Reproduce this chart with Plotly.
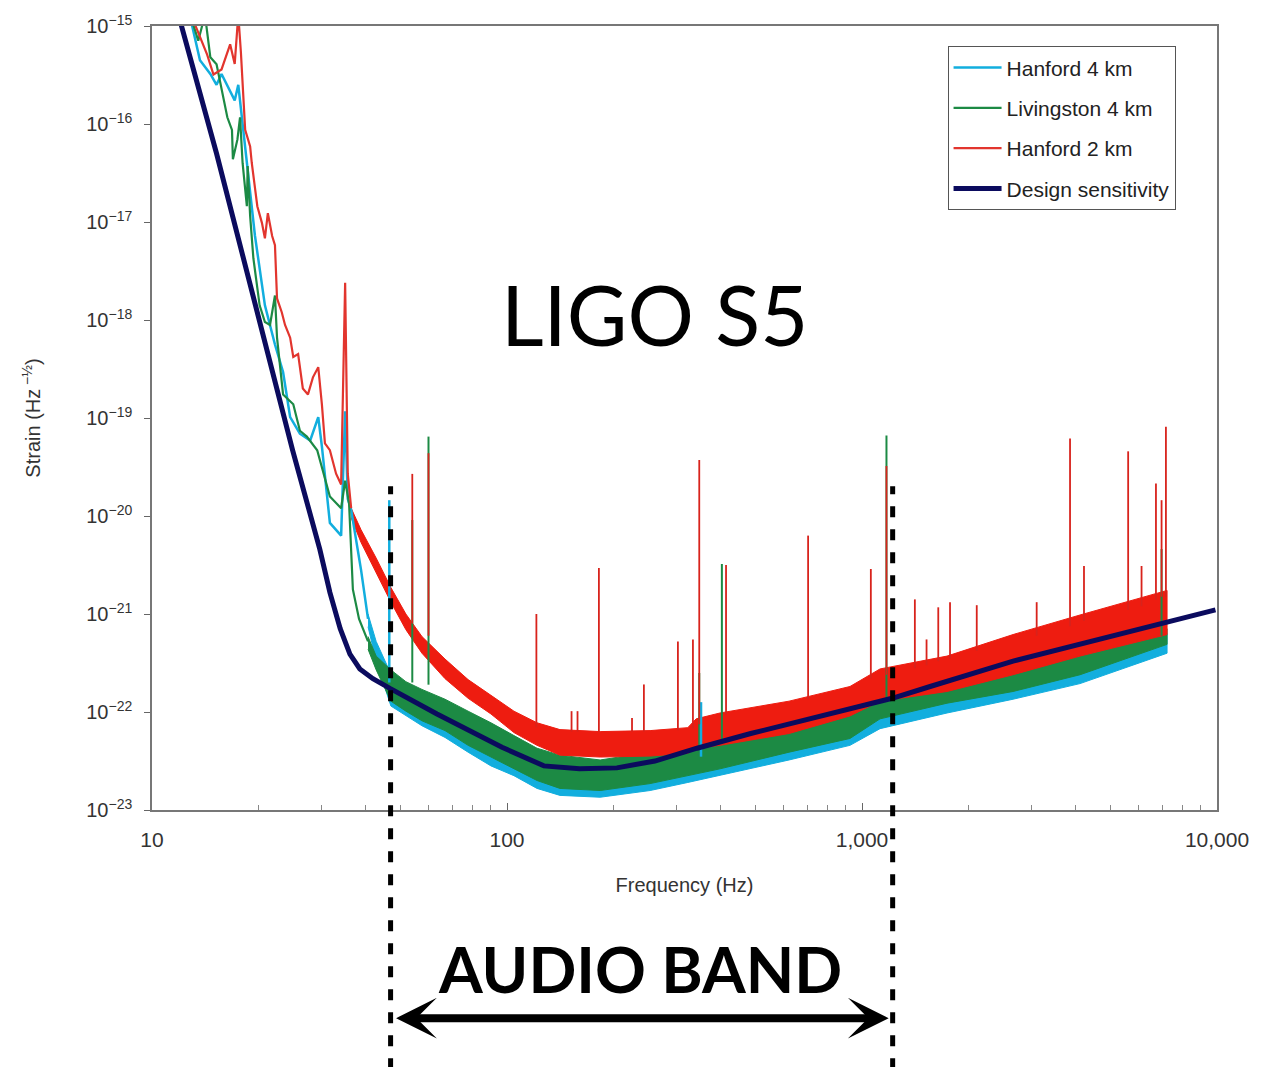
import numpy as np
import plotly.graph_objects as go

# ---------------- data ----------------
# Design sensitivity
design_freq = [11.5, 12.15, 15.2, 24.9, 29.7, 31.7, 33.9, 36.1, 38.5, 41.9, 46.8, 54.3, 63.5, 96.8,
               127, 160, 204, 261, 343, 486, 796, 1216, 1556, 2664, 9900]
design_strain = [2.04e-15, 9.55e-16, 5.0e-17, 4.68e-20, 4.57e-21, 1.66e-21, 7.08e-22, 3.89e-22,
                 2.75e-22, 2.19e-22, 1.74e-22, 1.29e-22, 9.55e-23, 4.37e-23, 2.82e-23, 2.63e-23,
                 2.69e-23, 3.16e-23, 4.27e-23, 6.03e-23, 9.55e-23, 1.38e-22, 1.82e-22, 3.31e-22,
                 1.10e-21]

# Hanford 4 km (H1) low-frequency trace
h1_line_freq = [12.9, 13.65, 14.6, 15.2, 15.7, 16.6, 17.1, 17.5, 18.3, 19.5, 20.8, 22.2, 23.4, 24.5,
                26.1, 27.9, 29.4, 30.1, 31.7, 34.1, 35.0, 35.6, 36.4, 38.8, 40.6]
h1_line_strain = [1.1e-15, 4.47e-16, 3.24e-16, 2.51e-16, 3.24e-16, 2.19e-16, 1.74e-16, 2.51e-16,
                  5.89e-17, 7.24e-18, 1.41e-18, 5.62e-19, 2.95e-19, 1.02e-19, 6.92e-20, 5.89e-20,
                  1.02e-19, 5.13e-20, 8.51e-21, 6.3e-21, 1.17e-19, 1.5e-20, 1.15e-20, 2.82e-21,
                  8.91e-22]
# Hanford 4 km noise band
h1_band_freq = [40.6, 42.8, 47.1, 51.9, 57.6, 66.9, 77.7, 90.1, 104.6, 121.5, 141, 183, 253, 323,
                398, 623, 925, 1124, 1736, 2664, 4113, 7233]
h1_band_upper = [1.0e-21, 5.25e-22, 2.45e-22, 1.82e-22, 1.51e-22, 1.20e-22, 8.91e-23, 6.76e-23,
                 4.90e-23, 3.63e-23, 3.02e-23, 2.75e-23, 3.39e-23, 4.07e-23, 4.57e-23, 6.46e-23,
                 9.12e-23, 1.20e-22, 1.82e-22, 2.45e-22, 3.72e-22, 6.31e-22]
h1_band_lower = [7.41e-22, 3.31e-22, 1.15e-22, 9.12e-23, 7.24e-23, 5.50e-23, 3.89e-23, 2.82e-23,
                 2.24e-23, 1.66e-23, 1.41e-23, 1.35e-23, 1.58e-23, 1.91e-23, 2.24e-23, 3.24e-23,
                 4.57e-23, 6.76e-23, 9.77e-23, 1.35e-22, 1.95e-22, 3.98e-22]
h1_spike_freq = [46.6, 352]
h1_spike_top = [1.45e-20, 1.26e-22]
h1_spike_base = [2.0e-22, 3.5e-23]

# Livingston 4 km (L1)
l1_line_freq = [12.9, 13.5, 14.1, 14.6, 15.2, 16.3, 16.8, 16.9, 17.4, 17.7, 18.0, 18.5, 18.6, 18.9,
                19.3, 20.1, 20.8, 21.5, 22.2, 22.5, 23.4, 25.0, 26.1, 27.3, 29.2, 31.7, 34.1, 35.0,
                35.9, 36.8, 38.3, 40.6]
l1_line_strain = [1.2e-15, 7.08e-16, 1.3e-15, 4.79e-16, 4.07e-16, 1.17e-16, 8.71e-17, 4.37e-17,
                  6.92e-17, 1.17e-16, 3.98e-17, 1.45e-17, 3.72e-17, 1.15e-17, 4.27e-18, 1.41e-18,
                  9.55e-19, 8.91e-19, 1.78e-18, 6.61e-19, 1.74e-19, 1.38e-19, 7.41e-20, 6.46e-20,
                  4.68e-20, 1.58e-20, 1.2e-20, 2.29e-20, 1.35e-20, 1.78e-21, 8.91e-22, 5.25e-22]
l1_band_freq = [40.6, 42.8, 47.1, 51.9, 57.6, 66.9, 77.7, 90.1, 104.6, 121.5, 141, 183, 253, 323,
                398, 623, 925, 1124, 1736, 2664, 4113, 7233]
l1_band_upper = [5.89e-22, 3.72e-22, 2.69e-22, 2.04e-22, 1.70e-22, 1.35e-22, 1.02e-22, 7.76e-23,
                 5.75e-23, 4.27e-23, 3.63e-23, 3.24e-23, 3.89e-23, 4.79e-23, 5.50e-23, 7.76e-23,
                 1.07e-22, 1.51e-22, 2.29e-22, 3.02e-22, 4.47e-22, 7.08e-22]
l1_band_lower = [4.37e-22, 2.69e-22, 1.29e-22, 1.02e-22, 8.13e-23, 6.46e-23, 4.57e-23, 3.47e-23,
                 2.63e-23, 2.00e-23, 1.66e-23, 1.58e-23, 1.86e-23, 2.24e-23, 2.63e-23, 3.89e-23,
                 5.37e-23, 8.51e-23, 1.23e-22, 1.62e-22, 2.40e-22, 4.90e-22]
l1_spike_freq = [54.1, 60.1, 348, 403, 1172, 6980]
l1_spike_top = [9.1e-21, 6.46e-20, 2.5e-22, 3.24e-21, 6.61e-20, 4.6e-21]
l1_spike_base = [2.0e-22, 1.9e-22, 3.9e-23, 4.8e-23, 1.2e-22, 6.0e-22]

# Hanford 2 km (H2)
h2_line_freq = [13.0, 13.5, 14.3, 14.9, 15.7, 16.6, 17.1, 17.5, 17.8, 18.3, 18.9, 19.1, 19.8, 20.4,
                20.8, 21.2, 21.8, 22.2, 22.5, 23.2, 23.7, 24.5, 25.0, 25.8, 26.6, 27.5, 28.4, 29.4,
                30.1, 30.7, 31.7, 33.0, 34.1, 35.0, 35.6, 36.4]
h2_line_strain = [1.2e-15, 8.5e-16, 5.1e-16, 3.2e-16, 3.6e-16, 6.5e-16, 4.1e-16, 1.3e-15, 5.4e-16,
                  8.7e-17, 5.9e-17, 4.0e-17, 1.45e-17, 9.8e-18, 6.8e-18, 1.23e-17, 7.2e-18, 5.8e-18,
                  1.66e-18, 1.2e-18, 8.9e-19, 6.6e-19, 4.2e-19, 4.5e-19, 2.0e-19, 1.74e-19, 2.6e-19,
                  3.3e-19, 1.38e-19, 5.5e-20, 4.7e-20, 2.7e-20, 2.1e-20, 2.4e-18, 2.7e-20, 1.2e-20]
h2_band_freq = [36.4, 38.8, 42.8, 47.1, 51.9, 57.6, 66.9, 77.7, 90.1, 104.6, 121.5, 141, 183, 253,
                323, 341, 398, 623, 925, 1124, 1736, 2664, 4113, 7233]
h2_band_upper = [1.20e-20, 7.24e-21, 3.72e-21, 1.86e-21, 1.0e-21, 5.89e-22, 3.47e-22, 2.14e-22,
                 1.48e-22, 1.02e-22, 7.76e-23, 6.61e-23, 6.31e-23, 6.46e-23, 6.92e-23, 8.51e-23,
                 9.77e-23, 1.29e-22, 1.82e-22, 2.75e-22, 3.72e-22, 6.17e-22, 9.77e-22, 1.74e-21]
h2_band_lower = [9.55e-21, 5.37e-21, 2.63e-21, 1.32e-21, 6.92e-22, 3.98e-22, 2.19e-22, 1.38e-22,
                 9.55e-23, 6.17e-23, 4.57e-23, 3.63e-23, 3.47e-23, 3.55e-23, 3.80e-23, 4.27e-23,
                 4.57e-23, 6.03e-23, 9.12e-23, 1.29e-22, 1.62e-22, 2.40e-22, 3.72e-22, 6.17e-22]
h2_spike_freq = [54.1, 60.1, 121, 152, 158, 181.5, 225, 243, 303, 334, 348, 414, 705, 1059, 1172,
                 1409, 1520, 1640, 1770, 2105, 3105, 3855, 4220, 5620, 6130, 6730, 6980, 7180]
h2_spike_top = [2.69e-20, 4.37e-20, 1.0e-21, 1.02e-22, 1.02e-22, 2.95e-21, 8.7e-23, 1.91e-22,
                5.25e-22, 5.5e-22, 3.72e-20, 3.16e-21, 6.31e-21, 2.88e-21, 3.24e-20, 1.41e-21,
                5.5e-22, 1.17e-21, 1.32e-21, 1.23e-21, 1.32e-21, 6.17e-20, 3.09e-21, 4.57e-20,
                3.09e-21, 2.14e-20, 1.45e-20, 8.13e-20]
h2_spike_base = [8.0e-22, 6.0e-22, 7.0e-23, 6.3e-23, 6.3e-23, 6.3e-23, 6.3e-23, 6.3e-23, 6.5e-23,
                 6.8e-23, 7.5e-23, 9.5e-23, 1.35e-22, 2.2e-22, 2.4e-22, 2.8e-22, 3.0e-22, 3.3e-22,
                 3.5e-22, 4.2e-22, 6.0e-22, 7.5e-22, 8.5e-22, 1.1e-21, 1.2e-21, 1.4e-21, 1.5e-21,
                 1.5e-21]

audio_band = [47, 1220]   # Hz, edges of the marked band

x_tick_vals = [10, 100, 1000, 10000]
x_tick_text = ["10", "100", "1,000", "10,000"]
y_exponents = list(range(-23, -14))
y_tick_vals = [10.0 ** e for e in y_exponents]
y_tick_text = ["10<sup>\u2212%d</sup>" % (-e) for e in y_exponents]
x_minor_vals = [m * 10 ** k for k in (1, 2, 3) for m in range(2, 10)]

series_names = ["Hanford 4 km", "Livingston 4 km", "Hanford 2 km", "Design sensitivity"]

# ---------------- styles ----------------
C_H1 = "#12aede"
C_L1 = "#1c8a44"
C_H2 = "#ee1c10"
C_SP = "#d8231c"
C_DES = "#0b0b5e"
NARROW = "Liberation Sans Narrow, Arial Narrow, Liberation Sans, sans-serif"

fig = go.Figure()


def add_band(freq, upper, lower, color, group):
    fig.add_trace(go.Scatter(
        x=list(freq) + list(freq)[::-1], y=list(upper) + list(lower)[::-1],
        mode="lines", fill="toself", fillcolor=color, line=dict(color=color, width=1),
        showlegend=False, hoverinfo="skip", legendgroup=group))


def add_spikes(freq, top, base, color, group, width):
    xs, ys = [], []
    for f, t, b in zip(freq, top, base):
        xs += [f, f, None]
        ys += [b, t, None]
    fig.add_trace(go.Scatter(x=xs, y=ys, mode="lines", line=dict(color=color, width=width),
                             showlegend=False, hoverinfo="skip", legendgroup=group))


add_band(h1_band_freq, h1_band_upper, h1_band_lower, C_H1, "h1")
add_band(l1_band_freq, l1_band_upper, l1_band_lower, C_L1, "l1")
add_band(h2_band_freq, h2_band_upper, h2_band_lower, C_H2, "h2")
add_spikes(l1_spike_freq, l1_spike_top, l1_spike_base, C_L1, "l1", 2)
add_spikes(h1_spike_freq, h1_spike_top, h1_spike_base, C_H1, "h1", 2.5)
add_spikes(h2_spike_freq, h2_spike_top, h2_spike_base, C_SP, "h2", 1.8)

fig.add_trace(go.Scatter(x=h1_line_freq, y=h1_line_strain, mode="lines", name=series_names[0],
                         line=dict(color=C_H1, width=2.5), legendgroup="h1"))
fig.add_trace(go.Scatter(x=l1_line_freq, y=l1_line_strain, mode="lines", name=series_names[1],
                         line=dict(color=C_L1, width=2.2), legendgroup="l1"))
fig.add_trace(go.Scatter(x=h2_line_freq, y=h2_line_strain, mode="lines", name=series_names[2],
                         line=dict(color="#e2352e", width=2.2), legendgroup="h2"))
fig.add_trace(go.Scatter(x=design_freq, y=design_strain, mode="lines", name=series_names[3],
                         line=dict(color=C_DES, width=5), legendgroup="des"))

fig.update_layout(
    width=1272, height=1067, autosize=False,
    margin=dict(l=152, r=55, t=19, b=257),
    paper_bgcolor="white", plot_bgcolor="white",
    showlegend=True,
    legend=dict(x=0.747, y=0.974, xanchor="left", yanchor="top",
                bgcolor="white", bordercolor="#555555", borderwidth=1,
                font=dict(family=NARROW, size=21, color="#222222"),
                traceorder="grouped", tracegroupgap=10, itemwidth=48),
    xaxis=dict(type="log", range=[1, 4], tickmode="array", tickvals=x_tick_vals,
               ticktext=x_tick_text, ticks="inside", ticklen=7, tickcolor="#666666",
               ticklabelstandoff=10,
               minor=dict(tickmode="array", tickvals=x_minor_vals, ticks="inside", ticklen=5,
                          tickcolor="#888888", showgrid=False),
               showline=True, linecolor="#777777", linewidth=1.5, mirror=True,
               showgrid=False, zeroline=False,
               tickfont=dict(family=NARROW, size=21, color="#333333"),
               title=dict(text="Frequency (Hz)", font=dict(family=NARROW, size=20, color="#333333"),
                          standoff=28)),
    yaxis=dict(type="log", range=[-23, -15], tickmode="array", tickvals=y_tick_vals,
               ticktext=y_tick_text, ticks="outside", ticklen=6, tickcolor="#666666",
               ticklabelstandoff=8,
               showline=True, linecolor="#777777", linewidth=1.5, mirror=True,
               showgrid=False, zeroline=False,
               tickfont=dict(family=NARROW, size=20, color="#333333"),
               title=dict(text="Strain (Hz<sup> \u2212\u00bd</sup>)",
                          font=dict(family=NARROW, size=20, color="#333333"), standoff=40)),
    shapes=[dict(type="line", xref="x", yref="paper", x0=f, x1=f, y0=-0.36, y1=0.4129,
                 line=dict(color="black", width=5, dash="11px,12px")) for f in audio_band],
    annotations=[
        dict(text="LIGO S5", xref="paper", yref="paper", x=0.4723, y=0.633,
             xanchor="center", yanchor="middle", showarrow=False,
             font=dict(family="Lato, Open Sans, sans-serif", size=83, color="black")),
        dict(text="<b>AUDIO BAND</b>", xref="paper", yref="paper", x=0.4582, y=-0.202,
             xanchor="center", yanchor="middle", showarrow=False,
             font=dict(family="Lato, Open Sans, sans-serif", size=63, color="black")),
        dict(text="", xref="x", yref="paper", x=float(np.log10(audio_band[1])), y=-0.2655,
             axref="x", ayref="pixel", ax=float(np.log10(audio_band[0])), ay=0,
             showarrow=True, arrowside="end+start", arrowhead=3, startarrowhead=3,
             arrowsize=0.85, startarrowsize=0.85, arrowwidth=8, arrowcolor="black",
             standoff=4, startstandoff=4),
    ],
)

fig.write_html("out.html")
